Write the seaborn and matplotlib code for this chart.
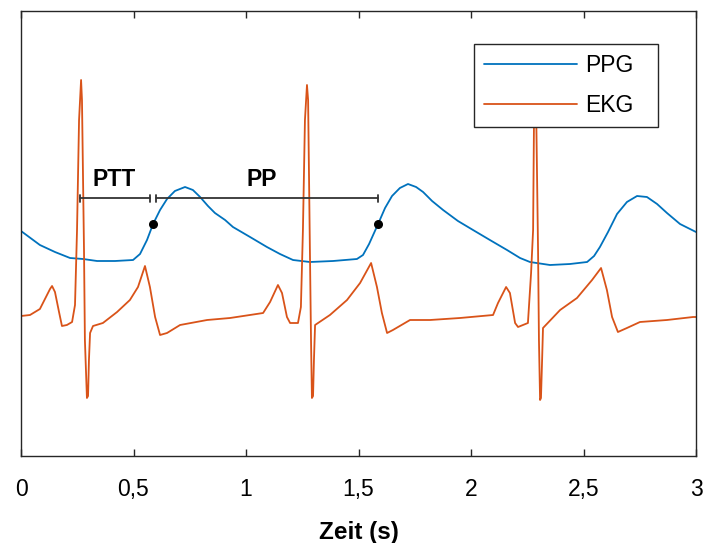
import numpy as np
import pandas as pd
import matplotlib
matplotlib.use("Agg")
import matplotlib.pyplot as plt
import seaborn as sns

# --- PPG trace (time in s, amplitude in arbitrary units) ---
ppg_t = [0.000, 0.084, 0.151, 0.218, 0.276, 0.338, 0.418, 0.498, 0.529, 0.560,
         0.587, 0.618, 0.649, 0.684, 0.729, 0.764, 0.796, 0.831, 0.862, 0.907,
         0.942, 1.018, 1.093, 1.151, 1.209, 1.284, 1.387, 1.493, 1.520, 1.547,
         1.587, 1.618, 1.649, 1.684, 1.720, 1.756, 1.787, 1.827, 1.876, 1.942,
         2.009, 2.084, 2.160, 2.218, 2.262, 2.351, 2.440, 2.516, 2.547, 2.573,
         2.609, 2.649, 2.693, 2.738, 2.782, 2.827, 2.871, 2.929, 3.000]
ppg_v = [2.25, 2.11, 2.04, 1.98, 1.97, 1.95, 1.95, 1.96, 2.02, 2.16,
         2.32, 2.46, 2.57, 2.65, 2.69, 2.66, 2.59, 2.50, 2.43, 2.36,
         2.29, 2.19, 2.09, 2.02, 1.96, 1.94, 1.95, 1.97, 2.01, 2.12,
         2.32, 2.48, 2.60, 2.68, 2.72, 2.69, 2.64, 2.55, 2.46, 2.35,
         2.26, 2.16, 2.06, 1.98, 1.94, 1.91, 1.92, 1.94, 2.00, 2.09,
         2.24, 2.42, 2.54, 2.60, 2.59, 2.52, 2.43, 2.32, 2.24]

# --- EKG trace (time in s, amplitude in arbitrary units) ---
ekg_t = [0.000, 0.040, 0.084, 0.111, 0.129, 0.138, 0.151, 0.169, 0.182, 0.204,
         0.227, 0.240, 0.249, 0.258, 0.267, 0.271, 0.280, 0.284, 0.293, 0.298,
         0.302, 0.307, 0.320, 0.364, 0.427, 0.484, 0.520, 0.551, 0.573, 0.596,
         0.618, 0.649, 0.707, 0.827, 0.929, 1.076, 1.107, 1.142, 1.160, 1.182,
         1.196, 1.231, 1.244, 1.253, 1.262, 1.271, 1.276, 1.284, 1.289, 1.293,
         1.298, 1.302, 1.307, 1.373, 1.449, 1.507, 1.556, 1.582, 1.604, 1.627,
         1.653, 1.729, 1.818, 1.951, 2.098, 2.120, 2.156, 2.173, 2.196, 2.209,
         2.253, 2.267, 2.276, 2.280, 2.284, 2.289, 2.298, 2.302, 2.307, 2.311,
         2.316, 2.320, 2.396, 2.471, 2.538, 2.578, 2.604, 2.627, 2.653, 2.693,
         2.751, 2.871, 2.987, 3.000]
ekg_v = [1.40, 1.41, 1.47, 1.59, 1.67, 1.70, 1.64, 1.44, 1.30, 1.31,
         1.34, 1.51, 2.26, 3.36, 3.76, 3.56, 2.06, 1.16, 0.58, 0.60,
         0.96, 1.23, 1.30, 1.33, 1.44, 1.56, 1.69, 1.90, 1.69, 1.39,
         1.21, 1.23, 1.31, 1.36, 1.38, 1.43, 1.54, 1.71, 1.63, 1.39,
         1.33, 1.33, 1.49, 2.26, 3.36, 3.71, 3.56, 2.06, 1.16, 0.58,
         0.60, 0.96, 1.31, 1.41, 1.56, 1.73, 1.93, 1.69, 1.43, 1.23,
         1.26, 1.36, 1.36, 1.38, 1.41, 1.53, 1.69, 1.63, 1.33, 1.29,
         1.33, 1.83, 2.26, 3.36, 3.71, 3.56, 2.06, 1.16, 0.56, 0.58,
         0.96, 1.28, 1.46, 1.58, 1.76, 1.88, 1.66, 1.39, 1.24, 1.28,
         1.34, 1.36, 1.39, 1.39]

# --- annotation: marked PPG points and interval bars ---
marker_t = [0.587, 1.587]
marker_v = [2.32, 2.32]
bar_level = 2.58
ptt_span = [0.262, 0.573]
pp_span = [0.600, 1.587]
bar_labels = ["PTT", "PP"]
label_t = [0.413, 1.071]
label_v = 2.76

x_ticks = [0, 0.5, 1, 1.5, 2, 2.5, 3]
x_ticklabels = ["0", "0,5", "1", "1,5", "2", "2,5", "3"]

blue = "#0072BD"
orange = "#D95319"
frame = "#262626"

sns.set_theme(style="white")
plt.rcParams["font.family"] = ["Liberation Sans", "DejaVu Sans"]

fig = plt.figure(figsize=(7.04, 5.43), dpi=100)
ax = fig.add_axes([21 / 704, 1 - 456 / 543, 675 / 704, 445 / 543])

ppg = pd.DataFrame({"t": ppg_t, "v": ppg_v})
ekg = pd.DataFrame({"t": ekg_t, "v": ekg_v})
sns.lineplot(data=ppg, x="t", y="v", color=blue, linewidth=1.3,
             sort=False, estimator=None, label="PPG", ax=ax)
sns.lineplot(data=ekg, x="t", y="v", color=orange, linewidth=1.3,
             sort=False, estimator=None, label="EKG", ax=ax)

# interval bars with end caps
cap = 0.035
for span in (ptt_span, pp_span):
    ax.plot(span, [bar_level, bar_level], color="#333333", linewidth=1.3)
    for s in span:
        ax.plot([s, s], [bar_level - cap, bar_level + cap],
                color="#333333", linewidth=1.3)
for txt, lt in zip(bar_labels, label_t):
    ax.text(lt, label_v, txt, ha="center", va="center",
            fontsize=16.5, fontweight="bold", color="black")

ax.scatter(marker_t, marker_v, s=30, color="black", zorder=5)

ax.set_xlim(0, 3)
ax.set_ylim(0, 4.45)
ax.set_xticks(x_ticks)
ax.set_xticklabels(x_ticklabels)
ax.set_yticks([])
ax.set_ylabel("")
ax.set_xlabel("Zeit (s)", fontsize=17.5, fontweight="bold", labelpad=14,
              color="black")
ax.tick_params(axis="x", direction="in", length=5, width=1, color=frame,
               top=True, bottom=True, labelsize=16.5, pad=16, labelcolor="black")
for sp in ax.spines.values():
    sp.set_visible(True)
    sp.set_color(frame)
    sp.set_linewidth(1)

leg = ax.legend(loc="upper left", bbox_to_anchor=(0.671, 0.737, 0.273, 0.189),
                mode="expand", borderaxespad=0, fontsize=16.5, handlelength=4.05,
                handletextpad=0.35, labelspacing=0.72, borderpad=0.45,
                fancybox=False, framealpha=1, edgecolor=frame)
leg.get_frame().set_linewidth(1)
for t in leg.get_texts():
    t.set_color("black")

fig.savefig("out.png", dpi=100)
